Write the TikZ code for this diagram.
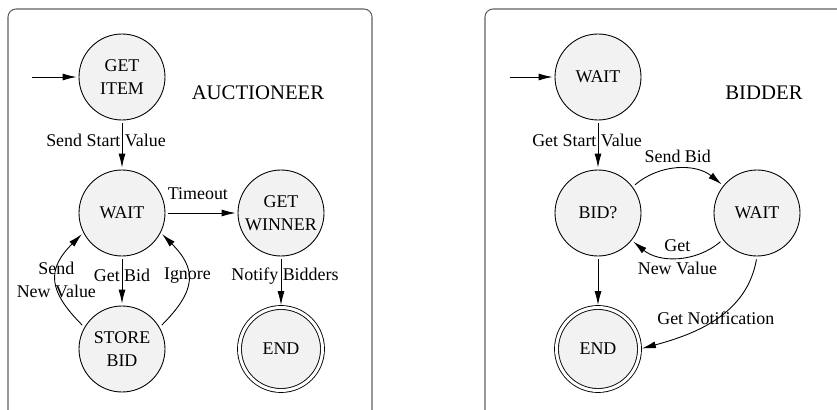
\documentclass[tikz,border=0pt]{standalone}
\usepackage{fontspec}
\setmainfont{Liberation Serif}
\usetikzlibrary{calc,arrows.meta}

\begin{document}
\begin{tikzpicture}[
  >={Latex[length=2.8mm,width=1.4mm]},
  font=\fontsize{10.2}{12.8}\selectfont,
  state/.style={draw,circle,fill=black!5,minimum size=17.2mm,inner sep=0pt,align=center,line width=0.5pt},
  finalstate/.style={state,double,double distance=0.6mm,minimum size=16.6mm},
  panel/.style={draw=black!62,line width=0.6pt,rounded corners=1.6mm},
  trans/.style={->,line width=0.5pt,shorten >=0.4mm,shorten <=0.6mm},
  title/.style={font=\fontsize{11.8}{14}\selectfont}
]
\useasboundingbox (0,0) rectangle (167.4mm,-82mm);

\draw[panel] (1.6mm,-82mm) -- (1.6mm,-1.8mm) -- (74.4mm,-1.8mm) -- (74.4mm,-82mm);
\draw[panel] (97mm,-82mm) -- (97mm,-1.8mm) -- (167.4mm,-1.8mm);

\draw node[state] (getitem) at (24.4mm,-15.4mm) {GET\\ITEM};
\draw node[state] (wait) at ($ (getitem)+(0,-27.2mm) $) {WAIT};
\draw node[state] (storebid) at ($ (wait)+(0,-27.2mm) $) {STORE\\BID};
\draw node[state] (getwinner) at ($ (wait)+(31.8mm,0) $) {GET\\WINNER};
\draw node[finalstate] (auend) at ($ (storebid)+(31.8mm,0) $) {END};
\draw node[title] (auctioneer) at ($ (getitem)+(27.2mm,-3.2mm) $) {AUCTIONEER};
\coordinate (austart) at ($ (getitem.west)-(9.4mm,0) $);

\draw[trans,shorten <=0pt] (austart) -- (getitem);
\draw[trans] (getitem) -- node[pos=0.4,xshift=-3.2mm] {Send Start Value} (wait);
\draw[trans] (wait) -- node[pos=0.45,above=1.4mm] {Timeout} (getwinner);
\draw[trans] (wait) -- node[pos=0.38] {Get Bid} (storebid);
\draw[trans] (getwinner) -- node[pos=0.38,xshift=0.8mm] {Notify Bidders} (auend);
\draw[trans] (storebid.150) to[out=135,in=225,looseness=1.4] node[pos=0.5,align=center] {Send\\New Value} (wait.207);
\draw[trans] (storebid.30) to[out=45,in=315,looseness=1.4] node[pos=0.55] {Ignore} (wait.333);

\draw node[state] (bwait) at ($ (getitem)+(95.2mm,0) $) {WAIT};
\draw node[state] (bid) at ($ (bwait)+(0,-27.2mm) $) {BID?};
\draw node[finalstate] (bidend) at ($ (bid)+(0,-27.2mm) $) {END};
\draw node[state] (bidwait) at ($ (bid)+(31.8mm,0) $) {WAIT};
\draw node[title] (bidder) at ($ (bwait)+(33.2mm,-3.2mm) $) {BIDDER};
\coordinate (bidstart) at ($ (bwait.west)-(9mm,0) $);

\draw[trans,shorten <=0pt] (bidstart) -- (bwait);
\draw[trans] (bwait) -- node[pos=0.4,xshift=-2.2mm] {Get Start Value} (bid);
\draw[trans] (bid.37) to[bend left=40] node[above] {Send Bid} (bidwait.141);
\draw[trans] (bidwait.218) to[bend left=40] node[align=center] {Get\\New Value} (bid.321);
\draw[trans] (bid) -- (bidend);
\draw[trans] (bidwait.south) to[out=-100,in=15] node {Get Notification} (bidend.east);

\end{tikzpicture}
\end{document}
